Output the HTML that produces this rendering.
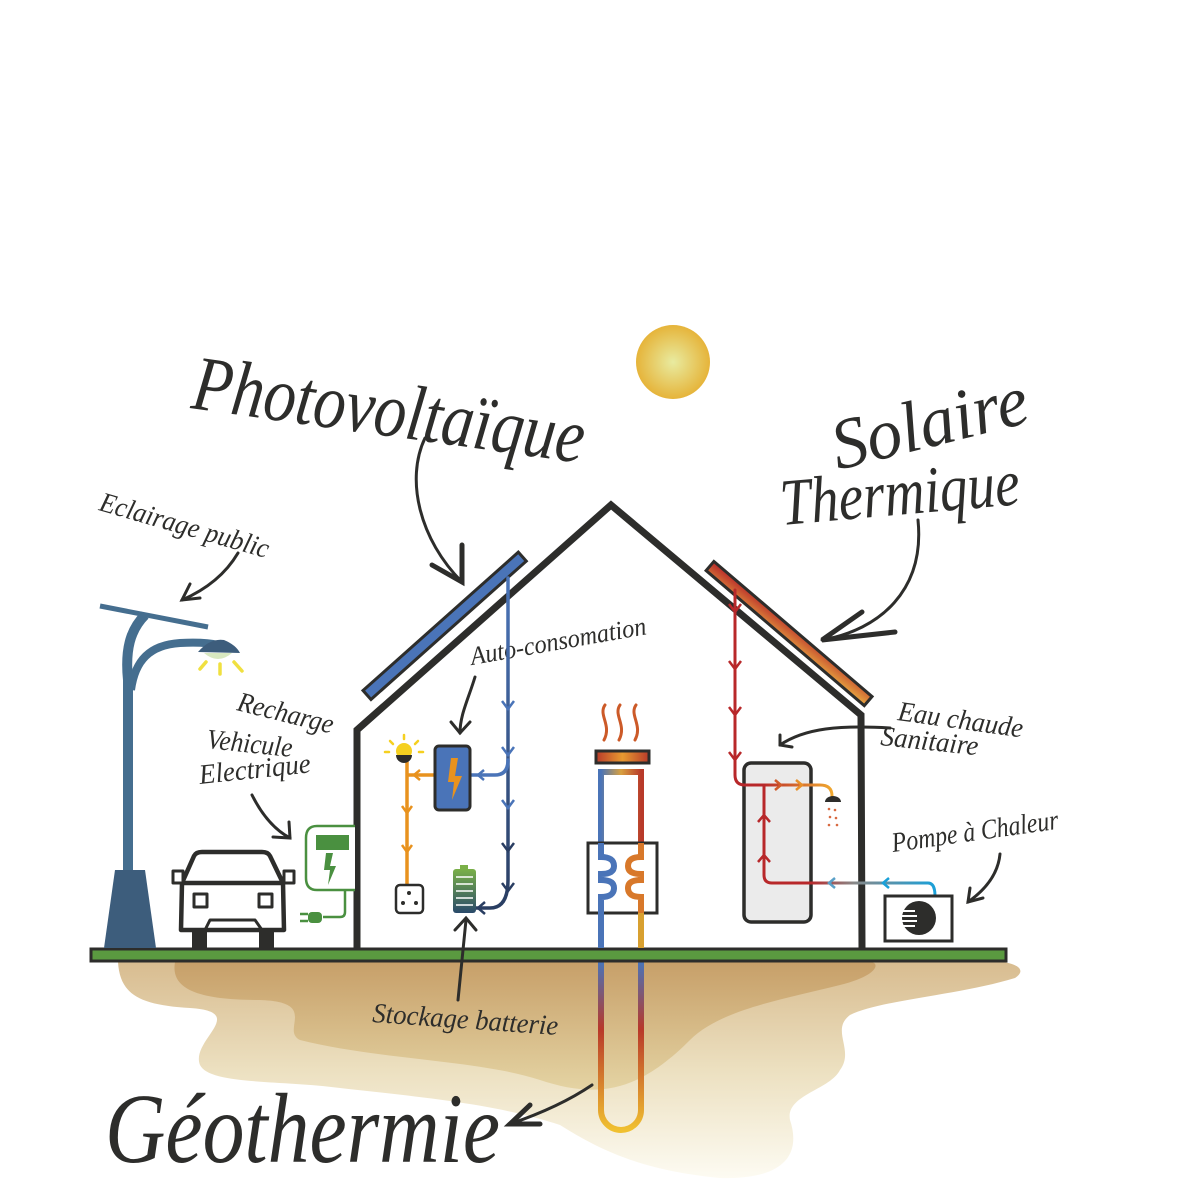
<!DOCTYPE html>
<html><head><meta charset="utf-8">
<style>
html,body{margin:0;padding:0;background:#fff;}
svg{display:block;}
.s{font-family:"Liberation Serif",serif;font-style:italic;fill:#2d2d2b;}
</style></head>
<body>
<svg width="1200" height="1200" viewBox="0 0 1200 1200" xmlns="http://www.w3.org/2000/svg">
<defs>
<radialGradient id="sun" cx="50%" cy="50%" r="50%"><stop offset="0" stop-color="#e8eba0"/><stop offset="1" stop-color="#e6b43a"/></radialGradient>
<linearGradient id="soil" x1="0" y1="0" x2="0" y2="1"><stop offset="0" stop-color="#d8bc90"/><stop offset="0.5" stop-color="#ece0c0"/><stop offset="1" stop-color="#fdfbf2"/></linearGradient>
<linearGradient id="soil2" x1="0" y1="0" x2="0" y2="1"><stop offset="0" stop-color="#c49a62"/><stop offset="1" stop-color="#e2d09c"/></linearGradient>
<linearGradient id="therm" x1="0" y1="0" x2="1" y2="1"><stop offset="0" stop-color="#b8282a"/><stop offset="1" stop-color="#e8a840"/></linearGradient>
<linearGradient id="rad" x1="0" y1="0" x2="1" y2="0"><stop offset="0" stop-color="#b83a2a"/><stop offset="0.5" stop-color="#e89a30"/><stop offset="1" stop-color="#b83a2a"/></linearGradient>
<linearGradient id="top" x1="0" y1="0" x2="1" y2="0"><stop offset="0" stop-color="#4a74b8"/><stop offset="0.5" stop-color="#d8a040"/><stop offset="1" stop-color="#b83a2a"/></linearGradient>
<linearGradient id="hot" x1="0" y1="0" x2="0" y2="1"><stop offset="0" stop-color="#b83a2a"/><stop offset="1" stop-color="#e0a030"/></linearGradient>
<linearGradient id="geoL" x1="0" y1="0" x2="0" y2="1"><stop offset="0" stop-color="#4a74b8"/><stop offset="0.4" stop-color="#b8382a"/><stop offset="1" stop-color="#f0c030"/></linearGradient>
<linearGradient id="geoR" x1="0" y1="0" x2="0" y2="1"><stop offset="0" stop-color="#b8382a"/><stop offset="1" stop-color="#f0c030"/></linearGradient>
<linearGradient id="bat" x1="0" y1="0" x2="0" y2="1"><stop offset="0" stop-color="#7ab048"/><stop offset="1" stop-color="#2a4a6a"/></linearGradient>
<linearGradient id="pv" x1="0" y1="0" x2="0" y2="1"><stop offset="0" stop-color="#4a74b8"/><stop offset="1" stop-color="#2a3e62"/></linearGradient>
<linearGradient id="hp" x1="0" y1="0" x2="1" y2="0"><stop offset="0" stop-color="#b8282a"/><stop offset="0.35" stop-color="#888"/><stop offset="1" stop-color="#1aa0d8"/></linearGradient>
<linearGradient id="hw" x1="0" y1="0" x2="1" y2="0"><stop offset="0" stop-color="#b8282a"/><stop offset="1" stop-color="#f0a830"/></linearGradient>
</defs>

<!-- soil -->
<path d="M118 962 C120 995 140 1005 190 1008 C250 1012 190 1040 200 1065 C210 1085 280 1080 340 1088 C430 1098 500 1105 560 1125 C600 1150 640 1170 720 1178 C790 1180 800 1150 790 1120 C785 1095 830 1090 840 1070 C855 1050 830 1030 850 1015 C880 1000 960 995 1015 978 C1030 968 1010 962 1000 962 Z" fill="url(#soil)"/>
<path d="M175 962 C170 990 200 1000 260 1000 C320 1002 280 1030 300 1040 C380 1060 480 1060 540 1080 C600 1100 640 1090 690 1040 C720 1010 780 1000 840 985 C880 975 880 962 870 962 Z" fill="url(#soil2)" opacity="0.85"/>

<!-- sun -->
<circle cx="673" cy="362" r="37" fill="url(#sun)"/>

<!-- titles -->
<text class="s" x="190" y="408" font-size="78" transform="rotate(8 190 408)" textLength="395" lengthAdjust="spacingAndGlyphs">Photovoltaïque</text>
<text class="s" x="838" y="470" font-size="72" transform="rotate(-14 838 470)" textLength="200" lengthAdjust="spacingAndGlyphs">Solaire</text>
<text class="s" x="782" y="525" font-size="66" transform="rotate(-5 782 525)" textLength="240" lengthAdjust="spacingAndGlyphs">Thermique</text>
<text class="s" x="105" y="1162" font-size="100" textLength="395" lengthAdjust="spacingAndGlyphs">Géothermie</text>
<text class="s" x="98" y="510" font-size="28" transform="rotate(16 98 510)" textLength="175" lengthAdjust="spacingAndGlyphs">Eclairage public</text>
<text class="s" x="236" y="710" font-size="28" transform="rotate(14 236 710)" textLength="98" lengthAdjust="spacingAndGlyphs">Recharge</text>
<text class="s" x="206" y="748" font-size="28" transform="rotate(6 206 748)" textLength="86" lengthAdjust="spacingAndGlyphs">Vehicule</text>
<text class="s" x="200" y="784" font-size="28" transform="rotate(-6 200 784)" textLength="112" lengthAdjust="spacingAndGlyphs">Electrique</text>
<text class="s" x="893" y="852" font-size="28" transform="rotate(-8 893 852)" textLength="168" lengthAdjust="spacingAndGlyphs">Pompe à Chaleur</text>
<text class="s" x="372" y="1022" font-size="28" transform="rotate(4 372 1022)" textLength="186" lengthAdjust="spacingAndGlyphs">Stockage batterie</text>

<!-- geothermal underground -->
<path d="M601 962 L601 1110 A20 20 0 0 0 641 1110 L641 962" fill="none" stroke="url(#geoL)" stroke-width="6"/>
<path d="M641 962 L641 1110" stroke="url(#geoR)" stroke-width="6"/>

<!-- house -->
<path d="M357 948 L357 730 L611 505 L861 715 L862 948" fill="#fff" stroke="#2d2d2b" stroke-width="7" stroke-linejoin="miter"/>
<text class="s" x="472" y="665" font-size="26" transform="rotate(-10 472 665)" textLength="178" lengthAdjust="spacingAndGlyphs">Auto-consomation</text>
<text class="s" x="897" y="720" font-size="28" transform="rotate(8 897 720)" textLength="126" lengthAdjust="spacingAndGlyphs">Eau chaude</text>
<text class="s" x="880" y="745" font-size="28" transform="rotate(6 880 745)" textLength="98" lengthAdjust="spacingAndGlyphs">Sanitaire</text>
<!-- panels -->
<g transform="translate(367 695) rotate(-41.7)"><rect x="0" y="-6" width="208" height="12" fill="#4a74b8" stroke="#2d2d2b" stroke-width="3"/></g>
<g transform="translate(710 566) rotate(40.5)"><rect x="0" y="-6" width="208" height="12" fill="url(#therm)" stroke="#2d2d2b" stroke-width="3"/></g>

<!-- ground bar -->
<rect x="91" y="949" width="915" height="12" fill="#5a9a40" stroke="#2d2d2b" stroke-width="3"/>

<!-- PV circuit -->
<g fill="none" stroke-width="3.5" stroke-linecap="round" stroke-linejoin="round">
<path d="M508 578 L508 880 Q508 908 490 908 L476 908" stroke="url(#pv)"/>
<path d="M508 760 Q508 775 495 775 L470 775" stroke="#4a74b8"/>
<path d="M435 775 L407 775 M407 762 L407 884" stroke="#e8921e"/>
</g>
<g fill="none" stroke-width="2.5" stroke="#4a74b8">
<path d="M502 701 L508 709 L514 701 M502 747 L508 755 L514 747 M502 800 L508 808 L514 800"/>
<path d="M484 770 L478 775 L484 780"/>
</g>
<g fill="none" stroke-width="2.5" stroke="#2a3e62"><path d="M502 843 L508 851 L514 843 M502 883 L508 891 L514 883 M485 902 L478 908 L485 914"/></g>
<g fill="none" stroke-width="2.5" stroke="#e8921e"><path d="M420 770 L414 775 L420 780 M402 806 L407 813 L412 806 M402 845 L407 852 L412 845"/></g>
<rect x="435" y="746" width="35" height="64" rx="4" fill="#4a74b8" stroke="#2d2d2b" stroke-width="3"/>
<path d="M451 758 L458 758 L455 776 L462 776 L452 800 L454 782 L448 782 Z" fill="#e8921e"/>
<!-- bulb -->
<circle cx="404" cy="751" r="8" fill="#f5d020"/><path d="M396 755 A8 8 0 0 0 412 755 Z" fill="#2d2d2b"/>
<g stroke="#f5d020" stroke-width="2.5" stroke-linecap="round"><path d="M404 735 V739 M390 741 L393 744 M418 741 L415 744 M385 752 H389 M419 752 H423"/></g>
<!-- outlet -->
<rect x="396" y="885" width="27" height="28" rx="4" fill="#fff" stroke="#2d2d2b" stroke-width="2.5"/>
<circle cx="409" cy="893" r="2" fill="#2d2d2b"/><circle cx="403" cy="903" r="2" fill="#2d2d2b"/><circle cx="416" cy="903" r="2" fill="#2d2d2b"/>
<!-- battery -->
<rect x="460" y="865" width="8" height="4" fill="#7ab048"/>
<rect x="453" y="869" width="23" height="44" rx="3" fill="url(#bat)"/>
<g stroke="#fff" stroke-width="1.5"><path d="M456 877 H473 M456 884 H473 M456 891 H473 M456 898 H473 M456 905 H473"/></g>

<!-- geothermal in house -->
<path d="M601 948 L601 772 L641 772 L641 948" fill="none" stroke="url(#top)" stroke-width="6"/>
<path d="M641 772 L641 948" stroke="url(#hot)" stroke-width="6"/>
<rect x="596" y="751" width="53" height="12" fill="url(#rad)" stroke="#2d2d2b" stroke-width="3"/>
<g fill="none" stroke-width="3" stroke-linecap="round"><path d="M605 705 C598 715 612 725 604 740" stroke="#cc5a28"/><path d="M620 705 C613 715 627 725 619 740" stroke="#cc5a28"/><path d="M636 705 C629 715 643 725 635 740" stroke="#cc5a28"/></g>
<rect x="588" y="843" width="69" height="70" fill="#fff" stroke="#2d2d2b" stroke-width="3"/>
<path d="M601 843 L601 857 Q614 857 614 866 Q614 874 601 874 L601 880 Q614 880 614 888 Q614 897 601 897 L601 913" fill="none" stroke="#4a74b8" stroke-width="6"/>
<path d="M641 843 L641 857 Q628 857 628 866 Q628 874 641 874 L641 880 Q628 880 628 888 Q628 897 641 897 L641 913" fill="none" stroke="#d8782a" stroke-width="6"/>
<path d="M601 913 V948" stroke="#4a74b8" stroke-width="6"/><path d="M641 913 V948" stroke="#d8a030" stroke-width="6"/>

<!-- tank -->
<rect x="744" y="763" width="67" height="159" rx="7" fill="#ebebeb" stroke="#2d2d2b" stroke-width="3.5"/>
<g fill="none" stroke-width="3" stroke-linecap="round" stroke-linejoin="round">
<path d="M735 590 L735 775 Q735 785 745 785 L762 785" stroke="#b8282a"/>
<path d="M762 785 L820 785 Q832 785 832 796" stroke="url(#hw)"/>
<path d="M764 785 L764 875 Q764 883 772 883 L810 883" stroke="#b8282a"/>
<path d="M810 883 L928 883 Q935 883 935 896" stroke="url(#hp)"/>
</g>
<g fill="none" stroke-width="2.5" stroke="#b8282a"><path d="M729 604 L735 612 L741 604 M729 661 L735 669 L741 661 M729 707 L735 715 L741 707 M729 752 L735 760 L741 752 M758 822 L764 815 L770 822 M758 862 L764 855 L770 862"/></g>
<g fill="none" stroke-width="2.5"><path d="M775 780 L781 785 L775 790" stroke="#d05a28"/><path d="M796 780 L802 785 L796 790" stroke="#e8902a"/><path d="M835 878 L829 883 L835 888" stroke="#5aa0c8"/><path d="M889 878 L883 883 L889 888" stroke="#1aa0d8"/></g>
<path d="M825 802 A8 6 0 0 1 841 802 Z" fill="#2d2d2b"/>
<g fill="#d86a40"><circle cx="829" cy="809" r="1.3"/><circle cx="835" cy="810" r="1.3"/><circle cx="830" cy="817" r="1.3"/><circle cx="836" cy="818" r="1.3"/><circle cx="829" cy="825" r="1.3"/><circle cx="837" cy="825" r="1.3"/></g>
<!-- heat pump -->
<rect x="885" y="896" width="67" height="45" fill="#fff" stroke="#2d2d2b" stroke-width="3"/>
<circle cx="919" cy="918" r="17" fill="#2d2d2b"/>
<g stroke="#fff" stroke-width="2"><path d="M902 911 H915 M902 916 H917 M902 921 H917 M902 926 H915"/></g>

<!-- street lamp -->
<path d="M115 870 L145 870 L156 948 L104 948 Z" fill="#3d5d7c"/>
<path d="M128 870 L128 680 C125 650 130 630 145 615" fill="none" stroke="#456e8f" stroke-width="10"/>
<path d="M131 690 C135 660 150 645 180 643 C200 642 210 643 218 645" fill="none" stroke="#456e8f" stroke-width="8"/>
<line x1="100" y1="606" x2="208" y2="627" stroke="#456e8f" stroke-width="5"/>
<path d="M198 652 Q210 638 224 640 Q236 645 240 653 Z" fill="#3d5d7c"/>
<path d="M204 653 Q218 665 232 653 Z" fill="#d8e8c0"/>
<g stroke="#f0e040" stroke-width="3.5" stroke-linecap="round"><path d="M220 664 V674 M206 662 L200 669 M234 662 L242 671"/></g>

<!-- car -->
<g fill="none" stroke="#2d2d2b" stroke-width="4.5" stroke-linejoin="round">
<path d="M182 883 L194 856 Q196 852 202 852 L262 852 Q268 852 270 856 L283 883 L284 930 L181 930 Z" fill="#fff"/>
<path d="M181 883 L284 883"/>
<rect x="173" y="871" width="10" height="12" fill="#fff" stroke-width="3"/><rect x="284" y="871" width="10" height="12" fill="#fff" stroke-width="3"/>
<rect x="194" y="894" width="13" height="13" stroke-width="3"/><rect x="259" y="894" width="13" height="13" stroke-width="3"/>
<path d="M205 930 L210 920 L255 920 L262 930" stroke-width="3"/>
</g>
<rect x="192" y="930" width="15" height="18" fill="#2d2d2b"/><rect x="259" y="930" width="15" height="18" fill="#2d2d2b"/>
<!-- charger -->
<path d="M355 826 L317 826 Q306 826 306 838 L306 878 Q306 890 317 890 L355 890" fill="#fff" stroke="#4a9040" stroke-width="2.5"/>
<rect x="316" y="835" width="33" height="15" fill="#4a9040"/>
<path d="M326 853 L333 853 L330 866 L336 866 L328 885 L330 870 L324 870 Z" fill="#4a9040"/>
<path d="M345 890 L345 912 Q345 917 340 917 L323 917" fill="none" stroke="#4a9040" stroke-width="2.5"/>
<rect x="308" y="912" width="14" height="11" rx="4" fill="#4a9040"/>
<path d="M300 914 H308 M300 921 H308" stroke="#4a9040" stroke-width="2.5"/>

<!-- pointer arrows -->
<g fill="none" stroke="#2d2d2b" stroke-width="3" stroke-linecap="round">
<path d="M425 438 C405 480 420 540 462 582"/><path d="M432 565 L462 582 L462 545" stroke-width="5"/>
<path d="M918 520 C925 590 880 630 822 640"/><path d="M862 612 L822 640 L895 632" stroke-width="5"/>
<path d="M238 553 C225 575 205 590 182 600"/><path d="M200 598 L182 600 L190 584"/>
<path d="M475 677 C468 700 460 715 460 733"/><path d="M451 722 L460 733 L470 722"/>
<path d="M252 795 C262 815 275 830 290 838"/><path d="M273 837 L290 838 L289 822"/>
<path d="M890 728 C840 725 805 728 780 745"/><path d="M780 735 L780 745 L792 747"/>
<path d="M1000 854 C998 875 985 890 968 902"/><path d="M970 888 L968 902 L983 898"/>
<path d="M466 920 L458 1000"/><path d="M455 930 L466 918 L476 930"/>
<path d="M592 1085 C570 1100 545 1112 510 1124"/><path d="M530 1105 L510 1124 L540 1124" stroke-width="5"/>
</g>
</svg>
</body></html>
